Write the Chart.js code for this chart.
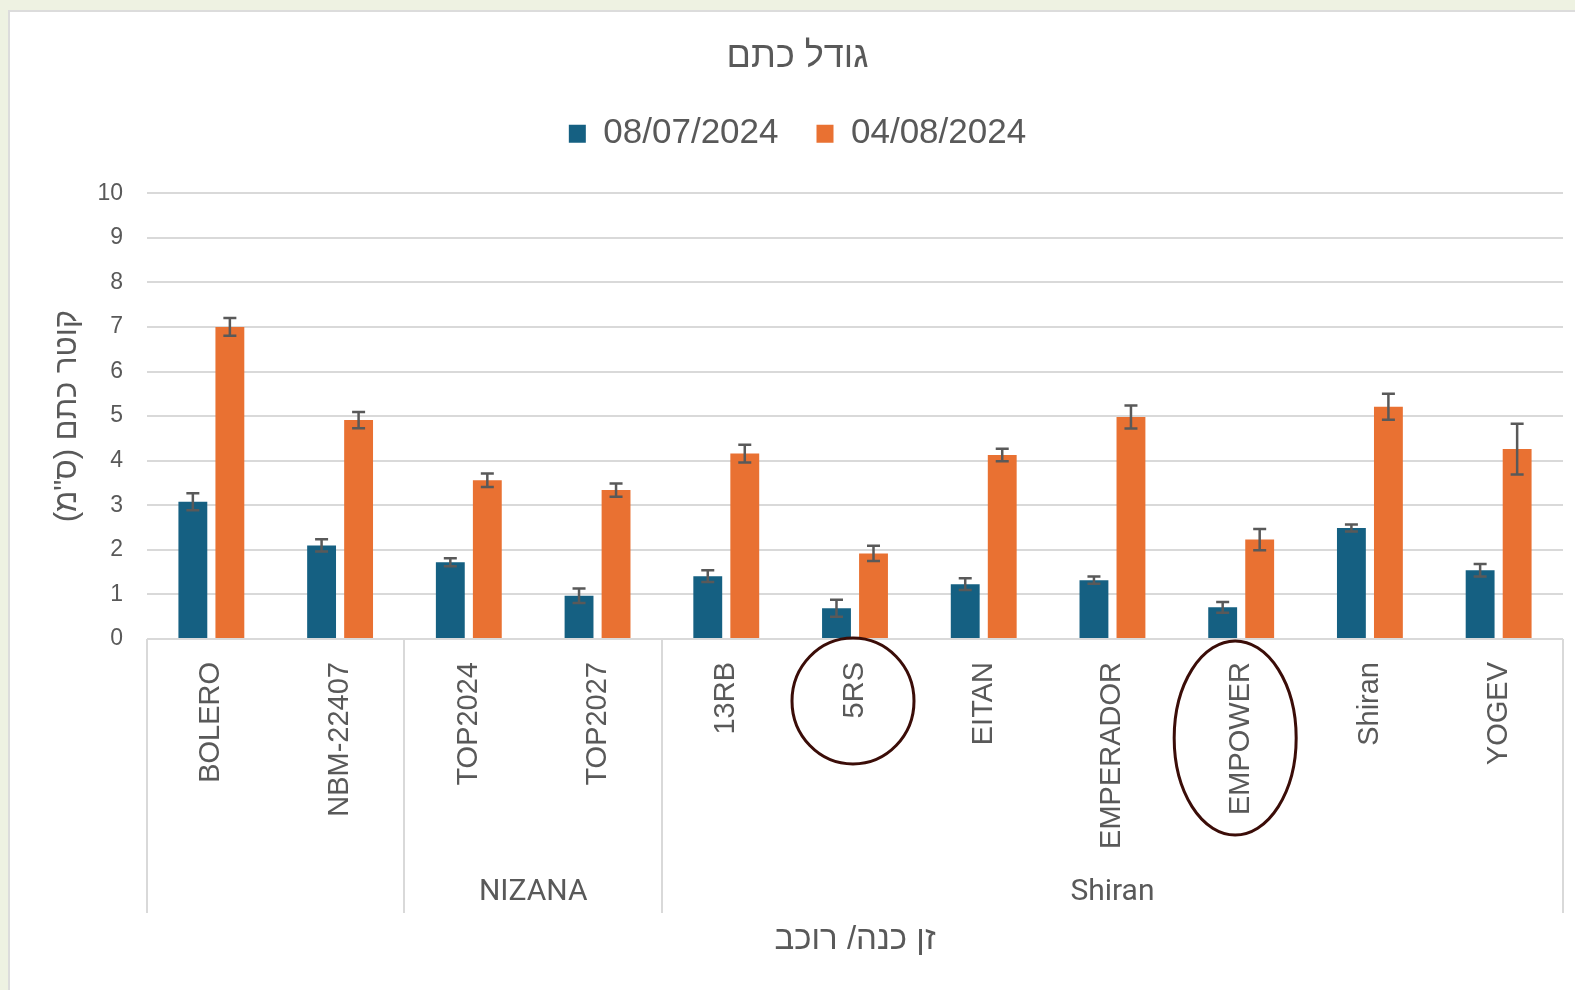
<!DOCTYPE html>
<html>
<head>
<meta charset="utf-8">
<script src="https://cdn.jsdelivr.net/npm/chart.js@4.4.1/dist/chart.umd.min.js"></script>
<style>
  html, body { margin: 0; padding: 0; width: 1575px; height: 990px; overflow: hidden; background: #eef2e2; }
  #panel { position: absolute; left: 8px; top: 10px; width: 1567px; height: 980px; background: #fff;
           border-left: 2px solid #dcdcdc; border-top: 2px solid #dcdcdc; box-sizing: border-box; }
  #chart { position: absolute; left: 0; top: 0; }
</style>
</head>
<body>
<div id="panel"></div>
<canvas id="chart" width="1575" height="990"></canvas>
<script>
// זנים (קטגוריות) וקבוצות כנה
const varieties = ['BOLERO', 'NBM-22407', 'TOP2024', 'TOP2027', '13RB', '5RS', 'EITAN', 'EMPERADOR', 'EMPOWER', 'Shiran', 'YOGEV'];
const groupNames = ['', 'NIZANA', 'Shiran'];
const groupSizes = [2, 2, 7];

const seriesNames = ['08/07/2024', '04/08/2024'];
const july = [3.08, 2.10, 1.72, 0.97, 1.41, 0.69, 1.23, 1.32, 0.71, 2.49, 1.54];
const julyErr = [0.19, 0.14, 0.09, 0.16, 0.13, 0.19, 0.13, 0.08, 0.12, 0.08, 0.14];
const august = [7.00, 4.91, 3.56, 3.34, 4.16, 1.92, 4.13, 4.98, 2.23, 5.21, 4.26];
const augustErr = [0.20, 0.18, 0.15, 0.15, 0.20, 0.17, 0.14, 0.26, 0.24, 0.29, 0.57];

const yMin = 0, yMax = 10, yStep = 1;

const TEXT = '#595959';
const GRID = '#d9d9d9';
const FONT = "'Liberation Sans', Arial, 'DejaVu Sans', sans-serif";

// סימון בעיגול של זנים מסוימים (סגנון בלבד)
const circled = {
    '5RS':     { dx: -2, cy: 701, rx: 61, ry: 63 },
    'EMPOWER': { dx: -6, cy: 738, rx: 61, ry: 97 }
};

// מרווח בין המקרא לאזור הגרף
const legendGap = {
    id: 'legendGap',
    beforeLayout(chart) {
        const lg = chart.legend;
        if (!lg || lg._gapPatched) return;
        const fit = lg.fit;
        lg.fit = function () {
            fit.call(this);
            this.height = 115;
        };
        lg._gapPatched = true;
    }
};

// קווי שגיאה
const errorBars = {
    id: 'errorBars',
    afterDatasetsDraw(chart) {
        const ctx = chart.ctx;
        const y = chart.scales.y;
        ctx.save();
        ctx.strokeStyle = TEXT;
        ctx.lineWidth = 2.5;
        chart.data.datasets.forEach((ds, d) => {
            const meta = chart.getDatasetMeta(d);
            meta.data.forEach((bar, i) => {
                const v = ds.data[i], e = ds.errors[i];
                const top = y.getPixelForValue(v + e);
                const bot = y.getPixelForValue(v - e);
                const cap = 6.5;
                ctx.beginPath();
                ctx.moveTo(bar.x, top); ctx.lineTo(bar.x, bot);
                ctx.moveTo(bar.x - cap, top); ctx.lineTo(bar.x + cap, top);
                ctx.moveTo(bar.x - cap, bot); ctx.lineTo(bar.x + cap, bot);
                ctx.stroke();
            });
        });
        ctx.restore();
    }
};

// ציר קטגוריות דו-שכבתי (זן / כנה)
const multiAxis = {
    id: 'multiAxis',
    afterDraw(chart) {
        const ctx = chart.ctx;
        const x = chart.scales.x;
        const area = chart.chartArea;
        const w = (area.right - area.left) / varieties.length;
        const axisY = area.bottom;
        const sepBottom = 913;

        ctx.save();
        // תוויות זנים מסובבות
        ctx.fillStyle = TEXT;
        ctx.font = '29px ' + FONT;
        ctx.textAlign = 'right';
        ctx.textBaseline = 'middle';
        varieties.forEach((name, i) => {
            const cx = x.getPixelForValue(i);
            ctx.save();
            ctx.translate(cx, axisY + 23);
            ctx.rotate(-Math.PI / 2);
            ctx.fillText(name, 0, 0);
            ctx.restore();
        });

        // קווי הפרדה ושמות קבוצות
        ctx.strokeStyle = GRID;
        ctx.lineWidth = 2;
        let start = 0;
        const edges = [0];
        groupSizes.forEach(n => { start += n; edges.push(start); });
        edges.forEach(k => {
            const px = Math.round(area.left + k * w);
            ctx.beginPath();
            ctx.moveTo(px, axisY);
            ctx.lineTo(px, sepBottom);
            ctx.stroke();
        });
        ctx.font = "30px Roboto, 'Liberation Sans', sans-serif";
        ctx.textAlign = 'center';
        groupNames.forEach((g, k) => {
            if (!g) return;
            const cx = area.left + (edges[k] + edges[k + 1]) / 2 * w;
            ctx.fillText(g, cx, 892);
        });

        // עיגולי הדגשה
        ctx.strokeStyle = '#3b0d08';
        ctx.lineWidth = 3;
        varieties.forEach((name, i) => {
            const c = circled[name];
            if (!c) return;
            ctx.beginPath();
            ctx.ellipse(x.getPixelForValue(i) + c.dx, c.cy, c.rx, c.ry, 0, 0, Math.PI * 2);
            ctx.stroke();
        });
        ctx.restore();
    }
};

new Chart(document.getElementById('chart'), {
    type: 'bar',
    data: {
        labels: varieties,
        datasets: [
            {
                label: seriesNames[0],
                data: july,
                errors: julyErr,
                backgroundColor: '#156082',
                categoryPercentage: 0.575,
                barPercentage: 0.78
            },
            {
                label: seriesNames[1],
                data: august,
                errors: augustErr,
                backgroundColor: '#e97132',
                categoryPercentage: 0.575,
                barPercentage: 0.78
            }
        ]
    },
    options: {
        responsive: false,
        devicePixelRatio: 1,
        animation: false,
        layout: { padding: { top: 11, right: 12, left: 32, bottom: 0 } },
        plugins: {
            title: {
                display: true,
                text: 'גודל כתם',
                color: TEXT,
                font: { size: 36, family: FONT, weight: 'normal' },
                padding: { top: 24, bottom: 0 }
            },
            legend: {
                position: 'top',
                labels: {
                    color: TEXT,
                    font: { size: 35, family: FONT },
                    boxWidth: 17,
                    boxHeight: 18,
                    padding: 38
                }
            },
            tooltip: { enabled: false }
        },
        scales: {
            x: {
                grid: { display: false },
                border: { display: false },
                ticks: { display: false },
                title: {
                    display: true,
                    text: 'זן כנה/ רוכב\u200F',
                    color: TEXT,
                    font: { size: 33, family: FONT },
                    padding: { top: 0, bottom: 30 }
                },
                afterFit(scale) { scale.height = 351; }
            },
            y: {
                min: yMin,
                max: yMax,
                ticks: {
                    stepSize: yStep,
                    color: TEXT,
                    font: { size: 23, family: FONT },
                    padding: 24
                },
                grid: { color: GRID, lineWidth: 2, drawTicks: false },
                border: { display: false },
                title: {
                    display: true,
                    text: 'קוטר כתם (ס"מ)\u200F',
                    color: TEXT,
                    font: { size: 31, family: FONT },
                    padding: { top: 17, bottom: 0 }
                },
                afterFit(scale) { scale.width = 115; }
            }
        }
    },
    plugins: [legendGap, errorBars, multiAxis]
});
</script>
</body>
</html>
